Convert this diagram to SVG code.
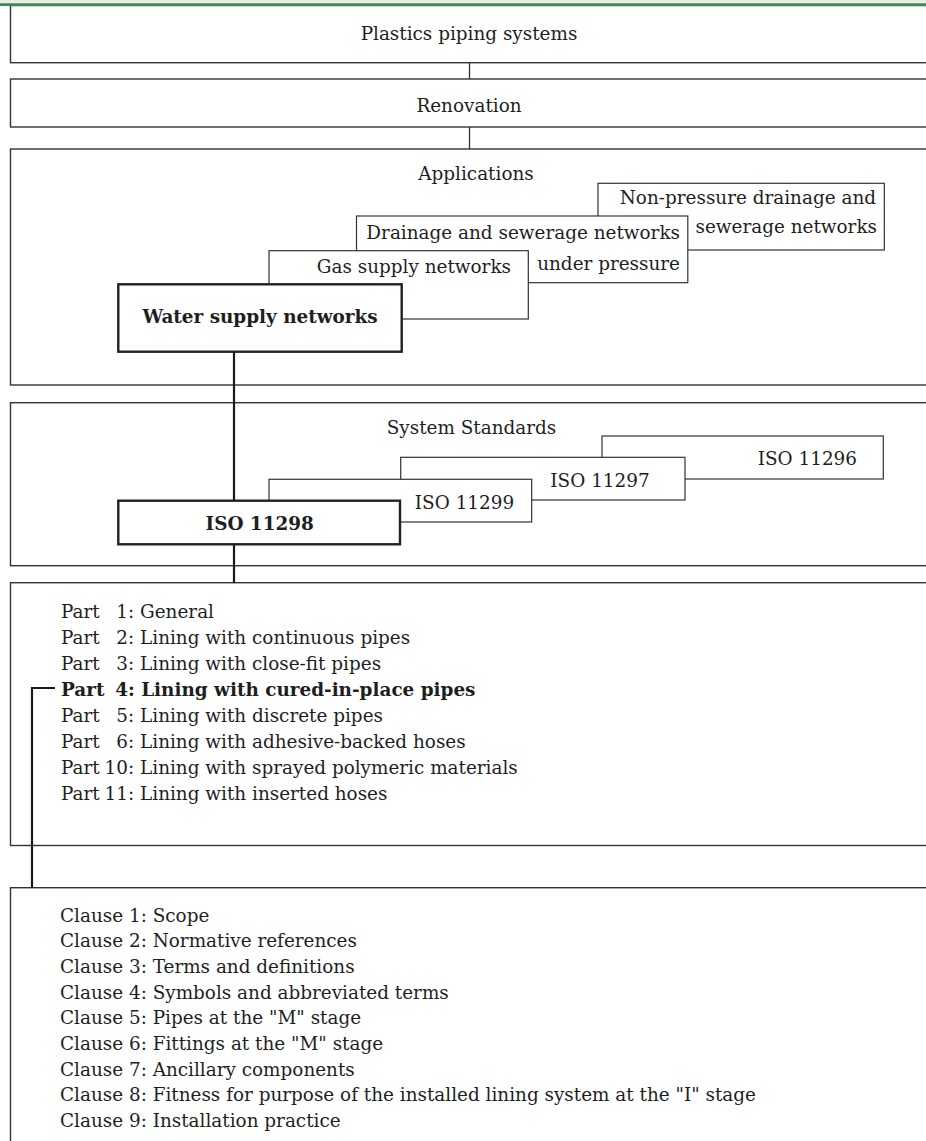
<svg xmlns="http://www.w3.org/2000/svg" width="926" height="1141" viewBox="0 0 926 1141">
<style>
text{font-family:"DejaVu Serif","Liberation Serif",serif;font-size:18.4px;fill:#1e1e1e}
.b{font-weight:bold}
.m{text-anchor:middle}
.e{text-anchor:end}
.cont{fill:#fff;stroke:#333;stroke-width:1.4}
.box{fill:#fff;stroke:#333;stroke-width:1.2}
.thick{fill:#fff;stroke:#222;stroke-width:2.4}
.ln{stroke:#333;stroke-width:1.3;fill:none}
.tl{stroke:#1a1a1a;stroke-width:2.2;fill:none}
</style>
<rect x="0" y="0" width="926" height="3.2" fill="#ebebeb"/>

<g id="plastics">
<rect class="cont" x="10.5" y="5.5" width="930" height="57.2"/>
<text class="m" x="469" y="40">Plastics piping systems</text>
</g>
<g id="renovation">
<rect class="cont" x="10.5" y="79" width="930" height="48"/>
<text class="m" x="469" y="112">Renovation</text>
</g>
<g id="applications">
<rect class="cont" x="10.5" y="149" width="930" height="236"/>
<text class="m" x="476" y="180">Applications</text>
</g>
<g id="system-standards">
<rect class="cont" x="10.5" y="402.7" width="930" height="163"/>
<text class="m" x="471.5" y="434">System Standards</text>
</g>
<g id="parts">
<rect class="cont" x="10.5" y="582.7" width="930" height="262.8"/>
<text x="61" y="618.3">Part</text><text class="e" x="128" y="618.3">1</text><text x="128" y="618.3">: General</text>
<text x="61" y="644.2">Part</text><text class="e" x="128" y="644.2">2</text><text x="128" y="644.2">: Lining with continuous pipes</text>
<text x="61" y="670.1">Part</text><text class="e" x="128" y="670.1">3</text><text x="128" y="670.1">: Lining with close-fit pipes</text>
<text class="b" x="61" y="696">Part</text><text class="b e" x="128" y="696">4</text><text class="b" x="128" y="696">: Lining with cured-in-place pipes</text>
<text x="61" y="721.9">Part</text><text class="e" x="128" y="721.9">5</text><text x="128" y="721.9">: Lining with discrete pipes</text>
<text x="61" y="747.8">Part</text><text class="e" x="128" y="747.8">6</text><text x="128" y="747.8">: Lining with adhesive-backed hoses</text>
<text x="61" y="773.7">Part</text><text class="e" x="128" y="773.7">10</text><text x="128" y="773.7">: Lining with sprayed polymeric materials</text>
<text x="61" y="799.6">Part</text><text class="e" x="128" y="799.6">11</text><text x="128" y="799.6">: Lining with inserted hoses</text>
</g>
<g id="clauses">
<rect class="cont" x="10.5" y="887.7" width="930" height="300"/>
<text x="60" y="921.7">Clause 1: Scope</text>
<text x="60" y="947.3">Clause 2: Normative references</text>
<text x="60" y="973">Clause 3: Terms and definitions</text>
<text x="60" y="998.6">Clause 4: Symbols and abbreviated terms</text>
<text x="60" y="1024.2">Clause 5: Pipes at the "M" stage</text>
<text x="60" y="1049.9">Clause 6: Fittings at the "M" stage</text>
<text x="60" y="1075.5">Clause 7: Ancillary components</text>
<text x="60" y="1101.1">Clause 8: Fitness for purpose of the installed lining system at the "I" stage</text>
<text x="60" y="1126.7">Clause 9: Installation practice</text>
</g>

<g id="connectors">
<line class="ln" x1="469.5" y1="62.7" x2="469.5" y2="79"/>
<line class="ln" x1="469.5" y1="127" x2="469.5" y2="149"/>
<line class="tl" x1="234" y1="352" x2="234" y2="501"/>
<line class="tl" x1="234" y1="544" x2="234" y2="583"/>
<polyline class="tl" points="55,688 32,688 32,888"/>
</g>

<g id="non-pressure">
<rect class="box" x="598" y="183.3" width="286.3" height="66.7"/>
<text class="e" x="876" y="204.3">Non-pressure drainage and</text>
<text class="e" x="877" y="233.3">sewerage networks</text>
</g>
<g id="drainage-pressure">
<rect class="box" x="356.5" y="216" width="331.3" height="66.7"/>
<text class="e" x="680" y="239">Drainage and sewerage networks</text>
<text class="e" x="680" y="270">under pressure</text>
</g>
<g id="gas">
<rect class="box" x="269" y="250.7" width="259.3" height="68.3"/>
<text class="e" x="511" y="273.3">Gas supply networks</text>
</g>
<g id="water">
<rect class="thick" x="118.3" y="284.3" width="283.4" height="67.4"/>
<text class="b m" x="260" y="323.3">Water supply networks</text>
</g>

<g id="iso11296">
<rect class="box" x="602" y="436" width="281.3" height="43"/>
<text class="e" x="857" y="465">ISO 11296</text>
</g>
<g id="iso11297">
<rect class="box" x="400.7" y="457.3" width="284.3" height="42.7"/>
<text class="m" x="600" y="487.3">ISO 11297</text>
</g>
<g id="iso11299">
<rect class="box" x="269" y="479.3" width="262.7" height="42.7"/>
<text class="m" x="464.5" y="509.3">ISO 11299</text>
</g>
<g id="iso11298">
<rect class="thick" x="118.3" y="500.7" width="281.7" height="43.6"/>
<text class="b m" x="259.7" y="530">ISO 11298</text>
</g>

<line x1="0" y1="4.6" x2="926" y2="4.6" stroke="#3b8a4e" stroke-width="2.6"/>
</svg>
